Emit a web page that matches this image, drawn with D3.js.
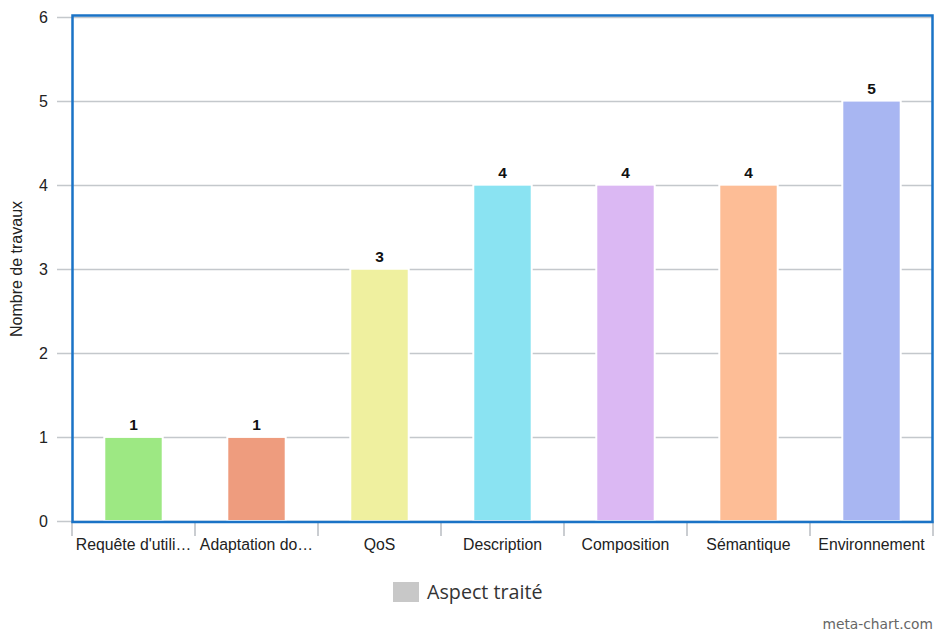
<!DOCTYPE html>
<html><head><meta charset="utf-8">
<script src="https://cdn.jsdelivr.net/npm/d3@7"></script>
<style>body{margin:0;background:#fff}svg{display:block}</style>
</head><body>
<svg id="c" width="935" height="633"></svg>
<script>
const categories = ["Requête d'utili…","Adaptation do…","QoS","Description","Composition","Sémantique","Environnement"];
const values = [1,1,3,4,4,4,5];
const colors = ["#9de883","#ee9c7e","#eff09f","#8ae3f2","#dbb8f3","#fdbd96","#a8b6f2"];
const yTicks = [0,1,2,3,4,5,6];
const seriesName = "Aspect traité";
const yTitle = "Nombre de travaux";

const svg = d3.select("#c");
const L=72, R=933, T=16.5, B=521;
const x = d3.scaleBand().domain(categories).range([L,R]).paddingInner(0).paddingOuter(0);
const y = d3.scaleLinear().domain([0,6]).range([B,T]);
const font = "'Liberation Sans', Arial, sans-serif";

// gridlines
svg.append("g").selectAll("line").data(yTicks).join("line")
  .attr("x1",57).attr("x2",R).attr("y1",d=>Math.round(y(d))+0.5).attr("y2",d=>Math.round(y(d))+0.5)
  .attr("stroke","#c4c8cc").attr("stroke-width",1.5);
// y labels
svg.append("g").selectAll("text").data(yTicks).join("text")
  .attr("x",48).attr("y",d=>y(d)+6).attr("text-anchor","end")
  .attr("font-family",font).attr("font-size",16).attr("fill","#222").text(d=>d);

// bars
const bw = x.bandwidth()*0.475;
svg.append("g").selectAll("rect").data(values).join("rect")
  .attr("x",(d,i)=>x(categories[i])+x.bandwidth()/2-bw/2)
  .attr("y",d=>y(d))
  .attr("width",bw).attr("height",d=>B-y(d))
  .attr("fill",(d,i)=>colors[i]).attr("stroke","#fff").attr("stroke-width",2);
// value labels
svg.append("g").selectAll("text").data(values).join("text")
  .attr("x",(d,i)=>x(categories[i])+x.bandwidth()/2).attr("y",d=>y(d)-7)
  .attr("text-anchor","middle").attr("font-family",font).attr("font-weight","bold")
  .attr("font-size",15.5).attr("fill","#111").text(d=>d);

// x tick marks
const xt = categories.map(c=>x(c)).concat([R]);
svg.append("g").selectAll("line").data(xt).join("line")
  .attr("x1",d=>d).attr("x2",d=>d).attr("y1",B).attr("y2",536)
  .attr("stroke","#b8bcc2").attr("stroke-width",1.5);
// x labels
svg.append("g").selectAll("text").data(categories).join("text")
  .attr("x",d=>x(d)+x.bandwidth()/2).attr("y",550).attr("text-anchor","middle")
  .attr("font-family",font).attr("font-size",15.8).attr("fill","#222").text(d=>d);

// frame
svg.append("rect").attr("x",L+0.5).attr("y",T-1).attr("width",R-L-1).attr("height",B-T+2)
  .attr("fill","none").attr("stroke","#1a73c6").attr("stroke-width",2.5);

// y title
svg.append("text").attr("transform","translate(22,269) rotate(-90)").attr("text-anchor","middle")
  .attr("font-family",font).attr("font-size",16).attr("fill","#222").text(yTitle);

// legend
svg.append("rect").attr("x",393).attr("y",582).attr("width",26).attr("height",20).attr("fill","#c8c8c8");
svg.append("text").attr("x",427).attr("y",599).attr("font-family","'Open Sans', 'DejaVu Sans', sans-serif")
  .attr("font-size",19.7).attr("fill","#333").text(seriesName);

// watermark
svg.append("text").attr("x",933).attr("y",629).attr("text-anchor","end")
  .attr("font-family","'DejaVu Sans', sans-serif").attr("font-size",13.8).attr("fill","#666").text("meta-chart.com");
</script>
</body></html>
